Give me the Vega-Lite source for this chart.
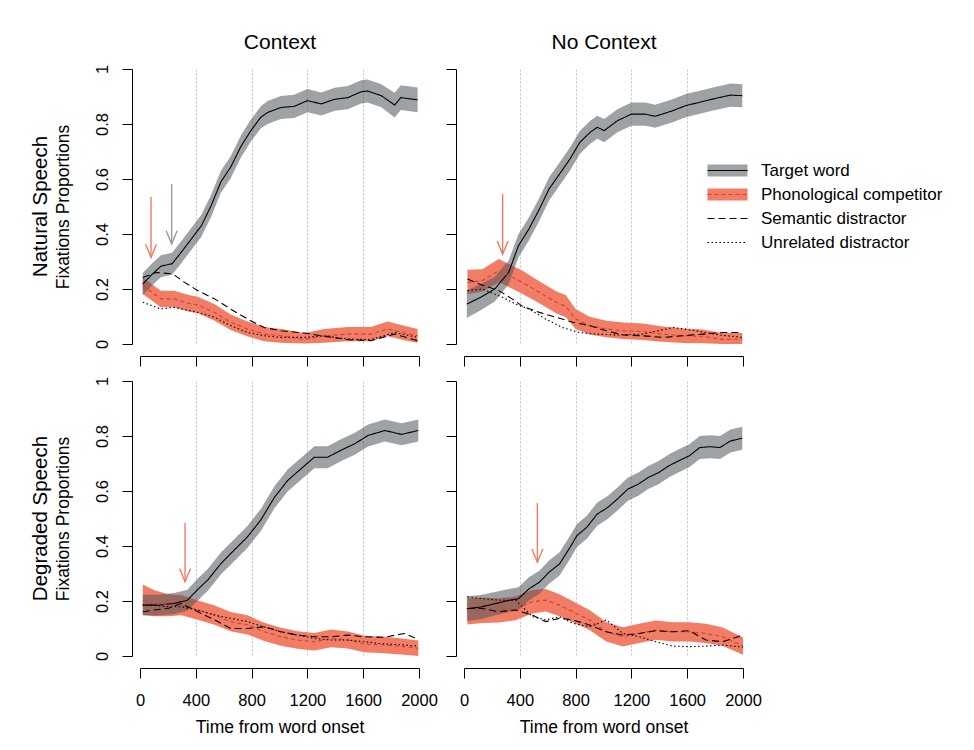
{
"$schema":"https://vega.github.io/schema/vega-lite/v6.json",
"autosize":{"type":"pad"},
"padding":{"left":30,"top":31,"right":10,"bottom":10},
"background":"white",
"datasets":{
"series":[
{"g":"TL","s":"Target word","t":20,"p":0.218,"lo":0.178,"hi":0.258},
{"g":"TL","s":"Target word","t":80,"p":0.25,"lo":0.21,"hi":0.29},
{"g":"TL","s":"Target word","t":150,"p":0.283,"lo":0.243,"hi":0.323},
{"g":"TL","s":"Target word","t":230,"p":0.292,"lo":0.252,"hi":0.332},
{"g":"TL","s":"Target word","t":290,"p":0.33,"lo":0.29,"hi":0.37},
{"g":"TL","s":"Target word","t":365,"p":0.38,"lo":0.34,"hi":0.42},
{"g":"TL","s":"Target word","t":440,"p":0.43,"lo":0.39,"hi":0.47},
{"g":"TL","s":"Target word","t":510,"p":0.503,"lo":0.463,"hi":0.543},
{"g":"TL","s":"Target word","t":580,"p":0.59,"lo":0.55,"hi":0.63},
{"g":"TL","s":"Target word","t":650,"p":0.643,"lo":0.603,"hi":0.683},
{"g":"TL","s":"Target word","t":725,"p":0.72,"lo":0.68,"hi":0.76},
{"g":"TL","s":"Target word","t":795,"p":0.776,"lo":0.736,"hi":0.816},
{"g":"TL","s":"Target word","t":865,"p":0.824,"lo":0.784,"hi":0.864},
{"g":"TL","s":"Target word","t":915,"p":0.842,"lo":0.8,"hi":0.884},
{"g":"TL","s":"Target word","t":1010,"p":0.86,"lo":0.818,"hi":0.902},
{"g":"TL","s":"Target word","t":1105,"p":0.864,"lo":0.822,"hi":0.906},
{"g":"TL","s":"Target word","t":1200,"p":0.885,"lo":0.843,"hi":0.927},
{"g":"TL","s":"Target word","t":1300,"p":0.873,"lo":0.831,"hi":0.915},
{"g":"TL","s":"Target word","t":1395,"p":0.89,"lo":0.848,"hi":0.932},
{"g":"TL","s":"Target word","t":1490,"p":0.896,"lo":0.854,"hi":0.938},
{"g":"TL","s":"Target word","t":1585,"p":0.917,"lo":0.875,"hi":0.959},
{"g":"TL","s":"Target word","t":1630,"p":0.92,"lo":0.878,"hi":0.962},
{"g":"TL","s":"Target word","t":1730,"p":0.903,"lo":0.861,"hi":0.945},
{"g":"TL","s":"Target word","t":1825,"p":0.869,"lo":0.824,"hi":0.914},
{"g":"TL","s":"Target word","t":1870,"p":0.896,"lo":0.851,"hi":0.941},
{"g":"TL","s":"Target word","t":1990,"p":0.888,"lo":0.843,"hi":0.933},
{"g":"TL","s":"Phonological competitor","t":20,"p":0.212,"lo":0.182,"hi":0.242},
{"g":"TL","s":"Phonological competitor","t":150,"p":0.164,"lo":0.134,"hi":0.194},
{"g":"TL","s":"Phonological competitor","t":245,"p":0.164,"lo":0.134,"hi":0.194},
{"g":"TL","s":"Phonological competitor","t":340,"p":0.149,"lo":0.119,"hi":0.179},
{"g":"TL","s":"Phonological competitor","t":415,"p":0.142,"lo":0.112,"hi":0.172},
{"g":"TL","s":"Phonological competitor","t":535,"p":0.115,"lo":0.085,"hi":0.145},
{"g":"TL","s":"Phonological competitor","t":650,"p":0.079,"lo":0.051,"hi":0.107},
{"g":"TL","s":"Phonological competitor","t":770,"p":0.055,"lo":0.028,"hi":0.082},
{"g":"TL","s":"Phonological competitor","t":890,"p":0.036,"lo":0.01,"hi":0.062},
{"g":"TL","s":"Phonological competitor","t":1010,"p":0.03,"lo":0.005,"hi":0.055},
{"g":"TL","s":"Phonological competitor","t":1180,"p":0.016,"lo":0.002,"hi":0.04},
{"g":"TL","s":"Phonological competitor","t":1320,"p":0.03,"lo":0.005,"hi":0.055},
{"g":"TL","s":"Phonological competitor","t":1490,"p":0.036,"lo":0.01,"hi":0.062},
{"g":"TL","s":"Phonological competitor","t":1655,"p":0.036,"lo":0.01,"hi":0.062},
{"g":"TL","s":"Phonological competitor","t":1775,"p":0.055,"lo":0.028,"hi":0.082},
{"g":"TL","s":"Phonological competitor","t":1895,"p":0.04,"lo":0.014,"hi":0.066},
{"g":"TL","s":"Phonological competitor","t":1990,"p":0.03,"lo":0.005,"hi":0.055},
{"g":"TL","s":"Semantic distractor","t":20,"p":0.242},
{"g":"TL","s":"Semantic distractor","t":115,"p":0.26},
{"g":"TL","s":"Semantic distractor","t":235,"p":0.255},
{"g":"TL","s":"Semantic distractor","t":320,"p":0.224},
{"g":"TL","s":"Semantic distractor","t":415,"p":0.194},
{"g":"TL","s":"Semantic distractor","t":535,"p":0.164},
{"g":"TL","s":"Semantic distractor","t":650,"p":0.127},
{"g":"TL","s":"Semantic distractor","t":770,"p":0.091},
{"g":"TL","s":"Semantic distractor","t":890,"p":0.06},
{"g":"TL","s":"Semantic distractor","t":1010,"p":0.048},
{"g":"TL","s":"Semantic distractor","t":1180,"p":0.04},
{"g":"TL","s":"Semantic distractor","t":1320,"p":0.028},
{"g":"TL","s":"Semantic distractor","t":1490,"p":0.016},
{"g":"TL","s":"Semantic distractor","t":1655,"p":0.012},
{"g":"TL","s":"Semantic distractor","t":1825,"p":0.036},
{"g":"TL","s":"Semantic distractor","t":1990,"p":0.012},
{"g":"TL","s":"Unrelated distractor","t":20,"p":0.152},
{"g":"TL","s":"Unrelated distractor","t":150,"p":0.127},
{"g":"TL","s":"Unrelated distractor","t":245,"p":0.133},
{"g":"TL","s":"Unrelated distractor","t":415,"p":0.115},
{"g":"TL","s":"Unrelated distractor","t":535,"p":0.097},
{"g":"TL","s":"Unrelated distractor","t":650,"p":0.067},
{"g":"TL","s":"Unrelated distractor","t":770,"p":0.042},
{"g":"TL","s":"Unrelated distractor","t":890,"p":0.03},
{"g":"TL","s":"Unrelated distractor","t":1010,"p":0.024},
{"g":"TL","s":"Unrelated distractor","t":1180,"p":0.024},
{"g":"TL","s":"Unrelated distractor","t":1320,"p":0.03},
{"g":"TL","s":"Unrelated distractor","t":1490,"p":0.018},
{"g":"TL","s":"Unrelated distractor","t":1655,"p":0.016},
{"g":"TL","s":"Unrelated distractor","t":1825,"p":0.042},
{"g":"TL","s":"Unrelated distractor","t":1990,"p":0.024},
{"g":"TR","s":"Target word","t":20,"p":0.145,"lo":0.095,"hi":0.195},
{"g":"TR","s":"Target word","t":120,"p":0.17,"lo":0.123,"hi":0.217},
{"g":"TR","s":"Target word","t":220,"p":0.2,"lo":0.155,"hi":0.245},
{"g":"TR","s":"Target word","t":320,"p":0.26,"lo":0.217,"hi":0.303},
{"g":"TR","s":"Target word","t":390,"p":0.357,"lo":0.315,"hi":0.399},
{"g":"TR","s":"Target word","t":465,"p":0.418,"lo":0.376,"hi":0.46},
{"g":"TR","s":"Target word","t":540,"p":0.49,"lo":0.448,"hi":0.532},
{"g":"TR","s":"Target word","t":610,"p":0.564,"lo":0.522,"hi":0.606},
{"g":"TR","s":"Target word","t":685,"p":0.618,"lo":0.576,"hi":0.66},
{"g":"TR","s":"Target word","t":760,"p":0.673,"lo":0.631,"hi":0.715},
{"g":"TR","s":"Target word","t":830,"p":0.733,"lo":0.691,"hi":0.775},
{"g":"TR","s":"Target word","t":905,"p":0.77,"lo":0.728,"hi":0.812},
{"g":"TR","s":"Target word","t":955,"p":0.788,"lo":0.746,"hi":0.83},
{"g":"TR","s":"Target word","t":1005,"p":0.776,"lo":0.734,"hi":0.818},
{"g":"TR","s":"Target word","t":1100,"p":0.812,"lo":0.77,"hi":0.854},
{"g":"TR","s":"Target word","t":1200,"p":0.836,"lo":0.794,"hi":0.878},
{"g":"TR","s":"Target word","t":1300,"p":0.836,"lo":0.794,"hi":0.878},
{"g":"TR","s":"Target word","t":1370,"p":0.828,"lo":0.786,"hi":0.87},
{"g":"TR","s":"Target word","t":1495,"p":0.848,"lo":0.806,"hi":0.89},
{"g":"TR","s":"Target word","t":1590,"p":0.867,"lo":0.825,"hi":0.909},
{"g":"TR","s":"Target word","t":1690,"p":0.879,"lo":0.837,"hi":0.921},
{"g":"TR","s":"Target word","t":1785,"p":0.891,"lo":0.849,"hi":0.933},
{"g":"TR","s":"Target word","t":1910,"p":0.905,"lo":0.863,"hi":0.947},
{"g":"TR","s":"Target word","t":1995,"p":0.903,"lo":0.861,"hi":0.945},
{"g":"TR","s":"Phonological competitor","t":25,"p":0.224,"lo":0.182,"hi":0.27},
{"g":"TR","s":"Phonological competitor","t":130,"p":0.23,"lo":0.19,"hi":0.272},
{"g":"TR","s":"Phonological competitor","t":250,"p":0.267,"lo":0.225,"hi":0.309},
{"g":"TR","s":"Phonological competitor","t":325,"p":0.248,"lo":0.206,"hi":0.29},
{"g":"TR","s":"Phonological competitor","t":420,"p":0.224,"lo":0.182,"hi":0.266},
{"g":"TR","s":"Phonological competitor","t":540,"p":0.188,"lo":0.148,"hi":0.228},
{"g":"TR","s":"Phonological competitor","t":660,"p":0.152,"lo":0.112,"hi":0.192},
{"g":"TR","s":"Phonological competitor","t":730,"p":0.137,"lo":0.097,"hi":0.177},
{"g":"TR","s":"Phonological competitor","t":800,"p":0.091,"lo":0.055,"hi":0.127},
{"g":"TR","s":"Phonological competitor","t":900,"p":0.067,"lo":0.035,"hi":0.099},
{"g":"TR","s":"Phonological competitor","t":1020,"p":0.055,"lo":0.025,"hi":0.085},
{"g":"TR","s":"Phonological competitor","t":1140,"p":0.048,"lo":0.018,"hi":0.078},
{"g":"TR","s":"Phonological competitor","t":1280,"p":0.045,"lo":0.015,"hi":0.075},
{"g":"TR","s":"Phonological competitor","t":1425,"p":0.036,"lo":0.008,"hi":0.064},
{"g":"TR","s":"Phonological competitor","t":1570,"p":0.03,"lo":0.004,"hi":0.056},
{"g":"TR","s":"Phonological competitor","t":1710,"p":0.028,"lo":0.003,"hi":0.053},
{"g":"TR","s":"Phonological competitor","t":1855,"p":0.016,"lo":0.0,"hi":0.04},
{"g":"TR","s":"Phonological competitor","t":1995,"p":0.018,"lo":0.0,"hi":0.04},
{"g":"TR","s":"Semantic distractor","t":25,"p":0.236},
{"g":"TR","s":"Semantic distractor","t":110,"p":0.218},
{"g":"TR","s":"Semantic distractor","t":180,"p":0.206},
{"g":"TR","s":"Semantic distractor","t":250,"p":0.194},
{"g":"TR","s":"Semantic distractor","t":345,"p":0.164},
{"g":"TR","s":"Semantic distractor","t":420,"p":0.137},
{"g":"TR","s":"Semantic distractor","t":540,"p":0.115},
{"g":"TR","s":"Semantic distractor","t":660,"p":0.097},
{"g":"TR","s":"Semantic distractor","t":780,"p":0.079},
{"g":"TR","s":"Semantic distractor","t":900,"p":0.067},
{"g":"TR","s":"Semantic distractor","t":1020,"p":0.048},
{"g":"TR","s":"Semantic distractor","t":1140,"p":0.033},
{"g":"TR","s":"Semantic distractor","t":1280,"p":0.03},
{"g":"TR","s":"Semantic distractor","t":1425,"p":0.024},
{"g":"TR","s":"Semantic distractor","t":1570,"p":0.03},
{"g":"TR","s":"Semantic distractor","t":1710,"p":0.036},
{"g":"TR","s":"Semantic distractor","t":1855,"p":0.042},
{"g":"TR","s":"Semantic distractor","t":1995,"p":0.042},
{"g":"TR","s":"Unrelated distractor","t":25,"p":0.194},
{"g":"TR","s":"Unrelated distractor","t":130,"p":0.2},
{"g":"TR","s":"Unrelated distractor","t":275,"p":0.17},
{"g":"TR","s":"Unrelated distractor","t":370,"p":0.145},
{"g":"TR","s":"Unrelated distractor","t":465,"p":0.127},
{"g":"TR","s":"Unrelated distractor","t":585,"p":0.091},
{"g":"TR","s":"Unrelated distractor","t":705,"p":0.06},
{"g":"TR","s":"Unrelated distractor","t":825,"p":0.042},
{"g":"TR","s":"Unrelated distractor","t":945,"p":0.036},
{"g":"TR","s":"Unrelated distractor","t":1090,"p":0.033},
{"g":"TR","s":"Unrelated distractor","t":1280,"p":0.036},
{"g":"TR","s":"Unrelated distractor","t":1500,"p":0.06},
{"g":"TR","s":"Unrelated distractor","t":1665,"p":0.048},
{"g":"TR","s":"Unrelated distractor","t":1830,"p":0.033},
{"g":"TR","s":"Unrelated distractor","t":1995,"p":0.024},
{"g":"BL","s":"Target word","t":20,"p":0.185,"lo":0.147,"hi":0.223},
{"g":"BL","s":"Target word","t":125,"p":0.185,"lo":0.147,"hi":0.223},
{"g":"BL","s":"Target word","t":245,"p":0.191,"lo":0.153,"hi":0.229},
{"g":"BL","s":"Target word","t":340,"p":0.203,"lo":0.165,"hi":0.241},
{"g":"BL","s":"Target word","t":410,"p":0.24,"lo":0.2,"hi":0.28},
{"g":"BL","s":"Target word","t":485,"p":0.276,"lo":0.236,"hi":0.316},
{"g":"BL","s":"Target word","t":580,"p":0.336,"lo":0.296,"hi":0.376},
{"g":"BL","s":"Target word","t":675,"p":0.385,"lo":0.345,"hi":0.425},
{"g":"BL","s":"Target word","t":770,"p":0.433,"lo":0.393,"hi":0.473},
{"g":"BL","s":"Target word","t":865,"p":0.494,"lo":0.454,"hi":0.534},
{"g":"BL","s":"Target word","t":965,"p":0.578,"lo":0.538,"hi":0.618},
{"g":"BL","s":"Target word","t":1060,"p":0.639,"lo":0.599,"hi":0.679},
{"g":"BL","s":"Target word","t":1155,"p":0.681,"lo":0.641,"hi":0.721},
{"g":"BL","s":"Target word","t":1250,"p":0.723,"lo":0.683,"hi":0.763},
{"g":"BL","s":"Target word","t":1345,"p":0.723,"lo":0.683,"hi":0.763},
{"g":"BL","s":"Target word","t":1440,"p":0.748,"lo":0.708,"hi":0.788},
{"g":"BL","s":"Target word","t":1540,"p":0.772,"lo":0.732,"hi":0.812},
{"g":"BL","s":"Target word","t":1635,"p":0.802,"lo":0.762,"hi":0.842},
{"g":"BL","s":"Target word","t":1755,"p":0.82,"lo":0.78,"hi":0.86},
{"g":"BL","s":"Target word","t":1875,"p":0.806,"lo":0.766,"hi":0.846},
{"g":"BL","s":"Target word","t":1995,"p":0.82,"lo":0.78,"hi":0.86},
{"g":"BL","s":"Phonological competitor","t":20,"p":0.203,"lo":0.15,"hi":0.26},
{"g":"BL","s":"Phonological competitor","t":100,"p":0.191,"lo":0.145,"hi":0.24},
{"g":"BL","s":"Phonological competitor","t":200,"p":0.185,"lo":0.145,"hi":0.225},
{"g":"BL","s":"Phonological competitor","t":295,"p":0.185,"lo":0.148,"hi":0.222},
{"g":"BL","s":"Phonological competitor","t":415,"p":0.167,"lo":0.132,"hi":0.202},
{"g":"BL","s":"Phonological competitor","t":535,"p":0.149,"lo":0.114,"hi":0.184},
{"g":"BL","s":"Phonological competitor","t":650,"p":0.125,"lo":0.09,"hi":0.16},
{"g":"BL","s":"Phonological competitor","t":770,"p":0.113,"lo":0.078,"hi":0.148},
{"g":"BL","s":"Phonological competitor","t":890,"p":0.088,"lo":0.055,"hi":0.121},
{"g":"BL","s":"Phonological competitor","t":1010,"p":0.07,"lo":0.037,"hi":0.103},
{"g":"BL","s":"Phonological competitor","t":1130,"p":0.058,"lo":0.026,"hi":0.09},
{"g":"BL","s":"Phonological competitor","t":1250,"p":0.052,"lo":0.02,"hi":0.084},
{"g":"BL","s":"Phonological competitor","t":1370,"p":0.064,"lo":0.032,"hi":0.096},
{"g":"BL","s":"Phonological competitor","t":1490,"p":0.058,"lo":0.027,"hi":0.089},
{"g":"BL","s":"Phonological competitor","t":1610,"p":0.044,"lo":0.014,"hi":0.074},
{"g":"BL","s":"Phonological competitor","t":1750,"p":0.04,"lo":0.01,"hi":0.07},
{"g":"BL","s":"Phonological competitor","t":1895,"p":0.034,"lo":0.005,"hi":0.063},
{"g":"BL","s":"Phonological competitor","t":1995,"p":0.028,"lo":0.0,"hi":0.056},
{"g":"BL","s":"Semantic distractor","t":20,"p":0.161},
{"g":"BL","s":"Semantic distractor","t":100,"p":0.167},
{"g":"BL","s":"Semantic distractor","t":200,"p":0.173},
{"g":"BL","s":"Semantic distractor","t":295,"p":0.191},
{"g":"BL","s":"Semantic distractor","t":415,"p":0.161},
{"g":"BL","s":"Semantic distractor","t":535,"p":0.131},
{"g":"BL","s":"Semantic distractor","t":650,"p":0.1},
{"g":"BL","s":"Semantic distractor","t":770,"p":0.1},
{"g":"BL","s":"Semantic distractor","t":890,"p":0.106},
{"g":"BL","s":"Semantic distractor","t":1010,"p":0.088},
{"g":"BL","s":"Semantic distractor","t":1130,"p":0.076},
{"g":"BL","s":"Semantic distractor","t":1250,"p":0.07},
{"g":"BL","s":"Semantic distractor","t":1370,"p":0.07},
{"g":"BL","s":"Semantic distractor","t":1490,"p":0.076},
{"g":"BL","s":"Semantic distractor","t":1610,"p":0.07},
{"g":"BL","s":"Semantic distractor","t":1750,"p":0.068},
{"g":"BL","s":"Semantic distractor","t":1895,"p":0.082},
{"g":"BL","s":"Semantic distractor","t":1995,"p":0.06},
{"g":"BL","s":"Unrelated distractor","t":20,"p":0.185},
{"g":"BL","s":"Unrelated distractor","t":100,"p":0.185},
{"g":"BL","s":"Unrelated distractor","t":200,"p":0.179},
{"g":"BL","s":"Unrelated distractor","t":295,"p":0.179},
{"g":"BL","s":"Unrelated distractor","t":415,"p":0.167},
{"g":"BL","s":"Unrelated distractor","t":535,"p":0.149},
{"g":"BL","s":"Unrelated distractor","t":650,"p":0.137},
{"g":"BL","s":"Unrelated distractor","t":770,"p":0.125},
{"g":"BL","s":"Unrelated distractor","t":890,"p":0.106},
{"g":"BL","s":"Unrelated distractor","t":1010,"p":0.088},
{"g":"BL","s":"Unrelated distractor","t":1130,"p":0.076},
{"g":"BL","s":"Unrelated distractor","t":1250,"p":0.064},
{"g":"BL","s":"Unrelated distractor","t":1370,"p":0.058},
{"g":"BL","s":"Unrelated distractor","t":1490,"p":0.058},
{"g":"BL","s":"Unrelated distractor","t":1610,"p":0.052},
{"g":"BL","s":"Unrelated distractor","t":1750,"p":0.044},
{"g":"BL","s":"Unrelated distractor","t":1895,"p":0.04},
{"g":"BL","s":"Unrelated distractor","t":1995,"p":0.036},
{"g":"BR","s":"Target word","t":20,"p":0.172,"lo":0.127,"hi":0.217},
{"g":"BR","s":"Target word","t":120,"p":0.178,"lo":0.134,"hi":0.222},
{"g":"BR","s":"Target word","t":220,"p":0.19,"lo":0.147,"hi":0.233},
{"g":"BR","s":"Target word","t":320,"p":0.202,"lo":0.16,"hi":0.244},
{"g":"BR","s":"Target word","t":390,"p":0.208,"lo":0.166,"hi":0.25},
{"g":"BR","s":"Target word","t":465,"p":0.244,"lo":0.202,"hi":0.286},
{"g":"BR","s":"Target word","t":540,"p":0.268,"lo":0.226,"hi":0.31},
{"g":"BR","s":"Target word","t":610,"p":0.305,"lo":0.263,"hi":0.347},
{"g":"BR","s":"Target word","t":685,"p":0.335,"lo":0.293,"hi":0.377},
{"g":"BR","s":"Target word","t":760,"p":0.395,"lo":0.353,"hi":0.437},
{"g":"BR","s":"Target word","t":810,"p":0.438,"lo":0.396,"hi":0.48},
{"g":"BR","s":"Target word","t":880,"p":0.468,"lo":0.426,"hi":0.51},
{"g":"BR","s":"Target word","t":955,"p":0.516,"lo":0.474,"hi":0.558},
{"g":"BR","s":"Target word","t":1030,"p":0.54,"lo":0.498,"hi":0.582},
{"g":"BR","s":"Target word","t":1100,"p":0.571,"lo":0.529,"hi":0.613},
{"g":"BR","s":"Target word","t":1175,"p":0.607,"lo":0.565,"hi":0.649},
{"g":"BR","s":"Target word","t":1250,"p":0.625,"lo":0.583,"hi":0.667},
{"g":"BR","s":"Target word","t":1320,"p":0.649,"lo":0.607,"hi":0.691},
{"g":"BR","s":"Target word","t":1395,"p":0.667,"lo":0.625,"hi":0.709},
{"g":"BR","s":"Target word","t":1470,"p":0.692,"lo":0.65,"hi":0.734},
{"g":"BR","s":"Target word","t":1540,"p":0.71,"lo":0.668,"hi":0.752},
{"g":"BR","s":"Target word","t":1615,"p":0.728,"lo":0.686,"hi":0.77},
{"g":"BR","s":"Target word","t":1690,"p":0.758,"lo":0.716,"hi":0.8},
{"g":"BR","s":"Target word","t":1765,"p":0.761,"lo":0.719,"hi":0.803},
{"g":"BR","s":"Target word","t":1835,"p":0.758,"lo":0.716,"hi":0.8},
{"g":"BR","s":"Target word","t":1910,"p":0.782,"lo":0.74,"hi":0.824},
{"g":"BR","s":"Target word","t":1995,"p":0.792,"lo":0.75,"hi":0.834},
{"g":"BR","s":"Phonological competitor","t":25,"p":0.161,"lo":0.115,"hi":0.21},
{"g":"BR","s":"Phonological competitor","t":130,"p":0.167,"lo":0.12,"hi":0.212},
{"g":"BR","s":"Phonological competitor","t":250,"p":0.167,"lo":0.122,"hi":0.21},
{"g":"BR","s":"Phonological competitor","t":370,"p":0.173,"lo":0.13,"hi":0.216},
{"g":"BR","s":"Phonological competitor","t":490,"p":0.197,"lo":0.155,"hi":0.24},
{"g":"BR","s":"Phonological competitor","t":585,"p":0.203,"lo":0.162,"hi":0.244},
{"g":"BR","s":"Phonological competitor","t":685,"p":0.185,"lo":0.145,"hi":0.225},
{"g":"BR","s":"Phonological competitor","t":780,"p":0.161,"lo":0.123,"hi":0.199},
{"g":"BR","s":"Phonological competitor","t":900,"p":0.131,"lo":0.095,"hi":0.167},
{"g":"BR","s":"Phonological competitor","t":1020,"p":0.088,"lo":0.053,"hi":0.123},
{"g":"BR","s":"Phonological competitor","t":1140,"p":0.07,"lo":0.035,"hi":0.105},
{"g":"BR","s":"Phonological competitor","t":1255,"p":0.082,"lo":0.047,"hi":0.117},
{"g":"BR","s":"Phonological competitor","t":1375,"p":0.094,"lo":0.059,"hi":0.129},
{"g":"BR","s":"Phonological competitor","t":1495,"p":0.088,"lo":0.053,"hi":0.123},
{"g":"BR","s":"Phonological competitor","t":1615,"p":0.088,"lo":0.053,"hi":0.123},
{"g":"BR","s":"Phonological competitor","t":1735,"p":0.082,"lo":0.047,"hi":0.117},
{"g":"BR","s":"Phonological competitor","t":1855,"p":0.07,"lo":0.036,"hi":0.104},
{"g":"BR","s":"Phonological competitor","t":2000,"p":0.036,"lo":0.005,"hi":0.067},
{"g":"BR","s":"Semantic distractor","t":25,"p":0.173},
{"g":"BR","s":"Semantic distractor","t":130,"p":0.173},
{"g":"BR","s":"Semantic distractor","t":250,"p":0.161},
{"g":"BR","s":"Semantic distractor","t":370,"p":0.167},
{"g":"BR","s":"Semantic distractor","t":490,"p":0.149},
{"g":"BR","s":"Semantic distractor","t":585,"p":0.125},
{"g":"BR","s":"Semantic distractor","t":685,"p":0.137},
{"g":"BR","s":"Semantic distractor","t":780,"p":0.131},
{"g":"BR","s":"Semantic distractor","t":900,"p":0.113},
{"g":"BR","s":"Semantic distractor","t":1020,"p":0.088},
{"g":"BR","s":"Semantic distractor","t":1140,"p":0.076},
{"g":"BR","s":"Semantic distractor","t":1255,"p":0.082},
{"g":"BR","s":"Semantic distractor","t":1375,"p":0.092},
{"g":"BR","s":"Semantic distractor","t":1495,"p":0.088},
{"g":"BR","s":"Semantic distractor","t":1615,"p":0.092},
{"g":"BR","s":"Semantic distractor","t":1735,"p":0.058},
{"g":"BR","s":"Semantic distractor","t":1855,"p":0.052},
{"g":"BR","s":"Semantic distractor","t":2000,"p":0.076},
{"g":"BR","s":"Unrelated distractor","t":25,"p":0.215},
{"g":"BR","s":"Unrelated distractor","t":130,"p":0.209},
{"g":"BR","s":"Unrelated distractor","t":250,"p":0.203},
{"g":"BR","s":"Unrelated distractor","t":370,"p":0.203},
{"g":"BR","s":"Unrelated distractor","t":490,"p":0.143},
{"g":"BR","s":"Unrelated distractor","t":585,"p":0.131},
{"g":"BR","s":"Unrelated distractor","t":685,"p":0.143},
{"g":"BR","s":"Unrelated distractor","t":780,"p":0.119},
{"g":"BR","s":"Unrelated distractor","t":900,"p":0.106},
{"g":"BR","s":"Unrelated distractor","t":1020,"p":0.131},
{"g":"BR","s":"Unrelated distractor","t":1140,"p":0.082},
{"g":"BR","s":"Unrelated distractor","t":1255,"p":0.07},
{"g":"BR","s":"Unrelated distractor","t":1375,"p":0.052},
{"g":"BR","s":"Unrelated distractor","t":1495,"p":0.036},
{"g":"BR","s":"Unrelated distractor","t":1615,"p":0.034},
{"g":"BR","s":"Unrelated distractor","t":1735,"p":0.036},
{"g":"BR","s":"Unrelated distractor","t":1855,"p":0.04},
{"g":"BR","s":"Unrelated distractor","t":2000,"p":0.032}
],
"arrows":[
{"g":"TL","k":"phon","t":79,"top":0.535,"tip":0.315},
{"g":"TL","k":"target","t":227,"top":0.582,"tip":0.364},
{"g":"TR","k":"phon","t":277,"top":0.545,"tip":0.327},
{"g":"BL","k":"phon","t":323,"top":0.484,"tip":0.27},
{"g":"BR","k":"phon","t":526,"top":0.556,"tip":0.341}
]
},
"spacing":9,
"vconcat":[
{"hconcat":[
 {"width":279,"height":275,
  "title":{"text":"Natural Speech","orient":"left","anchor":"middle","frame":"group","fontSize":20.5,"offset":3},
  "resolve":{"axis":{"x":"independent"}},
  "layer":[
   {"data":{"name":"series"},"transform":[{"filter":"datum.g==='TL' && datum.s==='Phonological competitor'"}],
    "mark":{"type":"area"},
    "encoding":{
     "x":{"field":"t","type":"quantitative","scale":{"domain":[0,2000],"nice":false,"zero":false},
      "axis":{"values":[0,400,800,1200,1600,2000],"offset":12,"labels":false,"title":null,"grid":true,"gridDash":[2,2],"gridColor":"#b4b4b4","gridWidth":0.8,"gridOpacity":{"condition":{"test":"datum.value===0 || datum.value===2000","value":0},"value":1}}},
     "y":{"field":"lo","type":"quantitative","scale":{"domain":[0,1],"nice":false,"zero":false},
      "axis":{"values":[0,0.2,0.4,0.6,0.8,1],"offset":8,"format":"~g","labelAngle":-90,"labelAlign":"center","labelBaseline":"bottom","labelPadding":12,"title":"Fixations Proportions","titlePadding":22}},
     "y2":{"field":"hi"},
     "fill":{"field":"s","type":"nominal","scale":{"domain":["Target word","Phonological competitor"],"range":["rgba(80,85,90,0.55)","#f27c64"]},
      "legend":{"title":null,"orient":"none","legendX":579,"legendY":93,"symbolType":"M-4,-1.2H4V1.2H-4Z","symbolSize":100,"symbolStrokeWidth":0,"labelOffset":25,"rowPadding":6,"labelOpacity":0,"labelFontSize":17,"labelLimit":300,"zindex":0}}}},
   {"data":{"name":"series"},"transform":[{"filter":"datum.g==='TL' && datum.s==='Target word'"}],
    "mark":{"type":"area"},
    "encoding":{
     "x":{"field":"t","type":"quantitative","scale":{"domain":[0,2000],"nice":false,"zero":false},"axis":null},
     "y":{"field":"lo","type":"quantitative","scale":{"domain":[0,1],"nice":false,"zero":false},
      "axis":{"values":[0,0.2,0.4,0.6,0.8,1],"offset":8,"format":"~g","labelAngle":-90,"labelAlign":"center","labelBaseline":"bottom","labelPadding":12,"title":"Fixations Proportions","titlePadding":22}},
     "y2":{"field":"hi"},
     "fill":{"field":"s","type":"nominal","scale":{"domain":["Target word","Phonological competitor"],"range":["rgba(80,85,90,0.55)","#f27c64"]},"legend":{"title":null,"orient":"none","legendX":579,"legendY":93,"symbolType":"M-4,-1.2H4V1.2H-4Z","symbolSize":100,"symbolStrokeWidth":0,"labelOffset":25,"rowPadding":6,"labelOpacity":0,"labelFontSize":17,"labelLimit":300,"zindex":0}}}},
   {"data":{"name":"series"},"transform":[{"filter":"datum.g==='TL'"}],
    "mark":{"type":"line","strokeWidth":1.1},
    "encoding":{
     "x":{"field":"t","type":"quantitative","scale":{"domain":[0,2000],"nice":false,"zero":false},
      "axis":{"orient":"top","title":"Context","domain":false,"ticks":false,"labels":false,"grid":false,"titleFontSize":21,"titlePadding":17}},
     "y":{"field":"p","type":"quantitative","scale":{"domain":[0,1],"nice":false,"zero":false},
      "axis":{"values":[0,0.2,0.4,0.6,0.8,1],"offset":8,"format":"~g","labelAngle":-90,"labelAlign":"center","labelBaseline":"bottom","labelPadding":12,"title":"Fixations Proportions","titlePadding":22}},
     "stroke":{"field":"s","type":"nominal","scale":{"domain":["Target word","Phonological competitor","Semantic distractor","Unrelated distractor"],"range":["#000000","#c8463c","#000000","#000000"]},
      "legend":{"title":null,"orient":"none","legendX":579,"legendY":93,"symbolType":"M-4,0H4","symbolSize":100,"symbolStrokeWidth":1.2,"labelOffset":25,"rowPadding":6,"labelFontSize":17,"labelLimit":300,"zindex":1}},
     "strokeDash":{"field":"s","type":"nominal","scale":{"domain":["Target word","Phonological competitor","Semantic distractor","Unrelated distractor"],"range":[[1,0],[4,3],[7,4],[1.5,2.5]]},
      "legend":{"title":null,"orient":"none","legendX":579,"legendY":93,"symbolType":"M-4,0H4","symbolSize":100,"symbolStrokeWidth":1.2,"labelOffset":25,"rowPadding":6,"labelFontSize":17,"labelLimit":300,"zindex":1}}}},
   {"data":{"name":"arrows"},"transform":[{"filter":"datum.g==='TL'"}],
    "mark":{"type":"rule","strokeWidth":1.4},
    "encoding":{
     "x":{"field":"t","type":"quantitative","scale":{"domain":[0,2000],"nice":false,"zero":false},"axis":null},
     "y":{"field":"top","type":"quantitative","scale":{"domain":[0,1],"nice":false,"zero":false},
      "axis":{"values":[0,0.2,0.4,0.6,0.8,1],"offset":8,"format":"~g","labelAngle":-90,"labelAlign":"center","labelBaseline":"bottom","labelPadding":12,"title":"Fixations Proportions","titlePadding":22}},
     "y2":{"field":"tip"},
     "color":{"field":"k","type":"nominal","scale":{"domain":["phon","target"],"range":["#f07c64","#9a9a9a"]},"legend":null}}},
   {"data":{"name":"arrows"},"transform":[{"filter":"datum.g==='TL'"}],
    "mark":{"type":"point","shape":"M-1,-2.4L0,0L1,-2.4","filled":false,"strokeWidth":1.4,"size":120,"opacity":1},
    "encoding":{
     "x":{"field":"t","type":"quantitative","scale":{"domain":[0,2000],"nice":false,"zero":false},"axis":null},
     "y":{"field":"tip","type":"quantitative","scale":{"domain":[0,1],"nice":false,"zero":false},
      "axis":{"values":[0,0.2,0.4,0.6,0.8,1],"offset":8,"format":"~g","labelAngle":-90,"labelAlign":"center","labelBaseline":"bottom","labelPadding":12,"title":"Fixations Proportions","titlePadding":22}},
     "color":{"field":"k","type":"nominal","scale":{"domain":["phon","target"],"range":["#f07c64","#9a9a9a"]},"legend":null}}}
  ]},
 {"width":279,"height":275,
  "resolve":{"axis":{"x":"independent"}},
  "layer":[
   {"data":{"name":"series"},"transform":[{"filter":"datum.g==='TR' && datum.s==='Phonological competitor'"}],
    "mark":{"type":"area"},
    "encoding":{
     "x":{"field":"t","type":"quantitative","scale":{"domain":[0,2000],"nice":false,"zero":false},
      "axis":{"values":[0,400,800,1200,1600,2000],"offset":12,"labels":false,"title":null,"grid":true,"gridDash":[2,2],"gridColor":"#b4b4b4","gridWidth":0.8,"gridOpacity":{"condition":{"test":"datum.value===0 || datum.value===2000","value":0},"value":1}}},
     "y":{"field":"lo","type":"quantitative","scale":{"domain":[0,1],"nice":false,"zero":false},"axis":{"values":[0,0.2,0.4,0.6,0.8,1],"offset":8,"labels":false,"title":null}},
     "y2":{"field":"hi"},
     "fill":{"field":"s","type":"nominal","legend":null}}},
   {"data":{"name":"series"},"transform":[{"filter":"datum.g==='TR' && datum.s==='Target word'"}],
    "mark":{"type":"area"},
    "encoding":{
     "x":{"field":"t","type":"quantitative","scale":{"domain":[0,2000],"nice":false,"zero":false},"axis":null},
     "y":{"field":"lo","type":"quantitative","scale":{"domain":[0,1],"nice":false,"zero":false},"axis":{"values":[0,0.2,0.4,0.6,0.8,1],"offset":8,"labels":false,"title":null}},
     "y2":{"field":"hi"},
     "fill":{"field":"s","type":"nominal","legend":null}}},
   {"data":{"name":"series"},"transform":[{"filter":"datum.g==='TR'"}],
    "mark":{"type":"line","strokeWidth":1.1},
    "encoding":{
     "x":{"field":"t","type":"quantitative","scale":{"domain":[0,2000],"nice":false,"zero":false},
      "axis":{"orient":"top","title":"No Context","domain":false,"ticks":false,"labels":false,"grid":false,"titleFontSize":21,"titlePadding":17}},
     "y":{"field":"p","type":"quantitative","scale":{"domain":[0,1],"nice":false,"zero":false},"axis":{"values":[0,0.2,0.4,0.6,0.8,1],"offset":8,"labels":false,"title":null}},
     "stroke":{"field":"s","type":"nominal","legend":null},
     "strokeDash":{"field":"s","type":"nominal","legend":null}}},
   {"data":{"name":"arrows"},"transform":[{"filter":"datum.g==='TR'"}],
    "mark":{"type":"rule","strokeWidth":1.4},
    "encoding":{
     "x":{"field":"t","type":"quantitative","scale":{"domain":[0,2000],"nice":false,"zero":false},"axis":null},
     "y":{"field":"top","type":"quantitative","scale":{"domain":[0,1],"nice":false,"zero":false},"axis":{"values":[0,0.2,0.4,0.6,0.8,1],"offset":8,"labels":false,"title":null}},
     "y2":{"field":"tip"},
     "color":{"field":"k","type":"nominal","legend":null}}},
   {"data":{"name":"arrows"},"transform":[{"filter":"datum.g==='TR'"}],
    "mark":{"type":"point","shape":"M-1,-2.4L0,0L1,-2.4","filled":false,"strokeWidth":1.4,"size":120,"opacity":1},
    "encoding":{
     "x":{"field":"t","type":"quantitative","scale":{"domain":[0,2000],"nice":false,"zero":false},"axis":null},
     "y":{"field":"tip","type":"quantitative","scale":{"domain":[0,1],"nice":false,"zero":false},"axis":{"values":[0,0.2,0.4,0.6,0.8,1],"offset":8,"labels":false,"title":null}},
     "color":{"field":"k","type":"nominal","legend":null}}}
  ]}
],"spacing":45,"bounds":"flush"},
{"hconcat":[
 {"width":279,"height":275,
  "title":{"text":"Degraded Speech","orient":"left","anchor":"middle","frame":"group","fontSize":20.5,"offset":3},
  "layer":[
   {"data":{"name":"series"},"transform":[{"filter":"datum.g==='BL' && datum.s==='Phonological competitor'"}],
    "mark":{"type":"area"},
    "encoding":{
     "x":{"field":"t","type":"quantitative","scale":{"domain":[0,2000],"nice":false,"zero":false},
      "axis":{"values":[0,400,800,1200,1600,2000],"format":"d","offset":12,"labelPadding":14,"title":"Time from word onset","titlePadding":10,"grid":true,"gridDash":[2,2],"gridColor":"#b4b4b4","gridWidth":0.8,"gridOpacity":{"condition":{"test":"datum.value===0 || datum.value===2000","value":0},"value":1}}},
     "y":{"field":"lo","type":"quantitative","scale":{"domain":[0,1],"nice":false,"zero":false},
      "axis":{"values":[0,0.2,0.4,0.6,0.8,1],"offset":8,"format":"~g","labelAngle":-90,"labelAlign":"center","labelBaseline":"bottom","labelPadding":12,"title":"Fixations Proportions","titlePadding":22}},
     "y2":{"field":"hi"},
     "fill":{"field":"s","type":"nominal","legend":null}}},
   {"data":{"name":"series"},"transform":[{"filter":"datum.g==='BL' && datum.s==='Target word'"}],
    "mark":{"type":"area"},
    "encoding":{
     "x":{"field":"t","type":"quantitative","scale":{"domain":[0,2000],"nice":false,"zero":false},
      "axis":{"values":[0,400,800,1200,1600,2000],"format":"d","offset":12,"labelPadding":14,"title":"Time from word onset","titlePadding":10,"grid":true,"gridDash":[2,2],"gridColor":"#b4b4b4","gridWidth":0.8,"gridOpacity":{"condition":{"test":"datum.value===0 || datum.value===2000","value":0},"value":1}}},
     "y":{"field":"lo","type":"quantitative","scale":{"domain":[0,1],"nice":false,"zero":false},
      "axis":{"values":[0,0.2,0.4,0.6,0.8,1],"offset":8,"format":"~g","labelAngle":-90,"labelAlign":"center","labelBaseline":"bottom","labelPadding":12,"title":"Fixations Proportions","titlePadding":22}},
     "y2":{"field":"hi"},
     "fill":{"field":"s","type":"nominal","legend":null}}},
   {"data":{"name":"series"},"transform":[{"filter":"datum.g==='BL'"}],
    "mark":{"type":"line","strokeWidth":1.1},
    "encoding":{
     "x":{"field":"t","type":"quantitative","scale":{"domain":[0,2000],"nice":false,"zero":false},
      "axis":{"values":[0,400,800,1200,1600,2000],"format":"d","offset":12,"labelPadding":14,"title":"Time from word onset","titlePadding":10,"grid":true,"gridDash":[2,2],"gridColor":"#b4b4b4","gridWidth":0.8,"gridOpacity":{"condition":{"test":"datum.value===0 || datum.value===2000","value":0},"value":1}}},
     "y":{"field":"p","type":"quantitative","scale":{"domain":[0,1],"nice":false,"zero":false},
      "axis":{"values":[0,0.2,0.4,0.6,0.8,1],"offset":8,"format":"~g","labelAngle":-90,"labelAlign":"center","labelBaseline":"bottom","labelPadding":12,"title":"Fixations Proportions","titlePadding":22}},
     "stroke":{"field":"s","type":"nominal","legend":null},
     "strokeDash":{"field":"s","type":"nominal","legend":null}}},
   {"data":{"name":"arrows"},"transform":[{"filter":"datum.g==='BL'"}],
    "mark":{"type":"rule","strokeWidth":1.4},
    "encoding":{
     "x":{"field":"t","type":"quantitative","scale":{"domain":[0,2000],"nice":false,"zero":false},
      "axis":{"values":[0,400,800,1200,1600,2000],"format":"d","offset":12,"labelPadding":14,"title":"Time from word onset","titlePadding":10,"grid":true,"gridDash":[2,2],"gridColor":"#b4b4b4","gridWidth":0.8,"gridOpacity":{"condition":{"test":"datum.value===0 || datum.value===2000","value":0},"value":1}}},
     "y":{"field":"top","type":"quantitative","scale":{"domain":[0,1],"nice":false,"zero":false},
      "axis":{"values":[0,0.2,0.4,0.6,0.8,1],"offset":8,"format":"~g","labelAngle":-90,"labelAlign":"center","labelBaseline":"bottom","labelPadding":12,"title":"Fixations Proportions","titlePadding":22}},
     "y2":{"field":"tip"},
     "color":{"field":"k","type":"nominal","legend":null}}},
   {"data":{"name":"arrows"},"transform":[{"filter":"datum.g==='BL'"}],
    "mark":{"type":"point","shape":"M-1,-2.4L0,0L1,-2.4","filled":false,"strokeWidth":1.4,"size":120,"opacity":1},
    "encoding":{
     "x":{"field":"t","type":"quantitative","scale":{"domain":[0,2000],"nice":false,"zero":false},
      "axis":{"values":[0,400,800,1200,1600,2000],"format":"d","offset":12,"labelPadding":14,"title":"Time from word onset","titlePadding":10,"grid":true,"gridDash":[2,2],"gridColor":"#b4b4b4","gridWidth":0.8,"gridOpacity":{"condition":{"test":"datum.value===0 || datum.value===2000","value":0},"value":1}}},
     "y":{"field":"tip","type":"quantitative","scale":{"domain":[0,1],"nice":false,"zero":false},
      "axis":{"values":[0,0.2,0.4,0.6,0.8,1],"offset":8,"format":"~g","labelAngle":-90,"labelAlign":"center","labelBaseline":"bottom","labelPadding":12,"title":"Fixations Proportions","titlePadding":22}},
     "color":{"field":"k","type":"nominal","legend":null}}}
  ]},
 {"width":279,"height":275,
  "layer":[
   {"data":{"name":"series"},"transform":[{"filter":"datum.g==='BR' && datum.s==='Phonological competitor'"}],
    "mark":{"type":"area"},
    "encoding":{
     "x":{"field":"t","type":"quantitative","scale":{"domain":[0,2000],"nice":false,"zero":false},
      "axis":{"values":[0,400,800,1200,1600,2000],"format":"d","offset":12,"labelPadding":14,"title":"Time from word onset","titlePadding":10,"grid":true,"gridDash":[2,2],"gridColor":"#b4b4b4","gridWidth":0.8,"gridOpacity":{"condition":{"test":"datum.value===0 || datum.value===2000","value":0},"value":1}}},
     "y":{"field":"lo","type":"quantitative","scale":{"domain":[0,1],"nice":false,"zero":false},"axis":{"values":[0,0.2,0.4,0.6,0.8,1],"offset":8,"labels":false,"title":null}},
     "y2":{"field":"hi"},
     "fill":{"field":"s","type":"nominal","legend":null}}},
   {"data":{"name":"series"},"transform":[{"filter":"datum.g==='BR' && datum.s==='Target word'"}],
    "mark":{"type":"area"},
    "encoding":{
     "x":{"field":"t","type":"quantitative","scale":{"domain":[0,2000],"nice":false,"zero":false},
      "axis":{"values":[0,400,800,1200,1600,2000],"format":"d","offset":12,"labelPadding":14,"title":"Time from word onset","titlePadding":10,"grid":true,"gridDash":[2,2],"gridColor":"#b4b4b4","gridWidth":0.8,"gridOpacity":{"condition":{"test":"datum.value===0 || datum.value===2000","value":0},"value":1}}},
     "y":{"field":"lo","type":"quantitative","scale":{"domain":[0,1],"nice":false,"zero":false},"axis":{"values":[0,0.2,0.4,0.6,0.8,1],"offset":8,"labels":false,"title":null}},
     "y2":{"field":"hi"},
     "fill":{"field":"s","type":"nominal","legend":null}}},
   {"data":{"name":"series"},"transform":[{"filter":"datum.g==='BR'"}],
    "mark":{"type":"line","strokeWidth":1.1},
    "encoding":{
     "x":{"field":"t","type":"quantitative","scale":{"domain":[0,2000],"nice":false,"zero":false},
      "axis":{"values":[0,400,800,1200,1600,2000],"format":"d","offset":12,"labelPadding":14,"title":"Time from word onset","titlePadding":10,"grid":true,"gridDash":[2,2],"gridColor":"#b4b4b4","gridWidth":0.8,"gridOpacity":{"condition":{"test":"datum.value===0 || datum.value===2000","value":0},"value":1}}},
     "y":{"field":"p","type":"quantitative","scale":{"domain":[0,1],"nice":false,"zero":false},"axis":{"values":[0,0.2,0.4,0.6,0.8,1],"offset":8,"labels":false,"title":null}},
     "stroke":{"field":"s","type":"nominal","legend":null},
     "strokeDash":{"field":"s","type":"nominal","legend":null}}},
   {"data":{"name":"arrows"},"transform":[{"filter":"datum.g==='BR'"}],
    "mark":{"type":"rule","strokeWidth":1.4},
    "encoding":{
     "x":{"field":"t","type":"quantitative","scale":{"domain":[0,2000],"nice":false,"zero":false},
      "axis":{"values":[0,400,800,1200,1600,2000],"format":"d","offset":12,"labelPadding":14,"title":"Time from word onset","titlePadding":10,"grid":true,"gridDash":[2,2],"gridColor":"#b4b4b4","gridWidth":0.8,"gridOpacity":{"condition":{"test":"datum.value===0 || datum.value===2000","value":0},"value":1}}},
     "y":{"field":"top","type":"quantitative","scale":{"domain":[0,1],"nice":false,"zero":false},"axis":{"values":[0,0.2,0.4,0.6,0.8,1],"offset":8,"labels":false,"title":null}},
     "y2":{"field":"tip"},
     "color":{"field":"k","type":"nominal","legend":null}}},
   {"data":{"name":"arrows"},"transform":[{"filter":"datum.g==='BR'"}],
    "mark":{"type":"point","shape":"M-1,-2.4L0,0L1,-2.4","filled":false,"strokeWidth":1.4,"size":120,"opacity":1},
    "encoding":{
     "x":{"field":"t","type":"quantitative","scale":{"domain":[0,2000],"nice":false,"zero":false},
      "axis":{"values":[0,400,800,1200,1600,2000],"format":"d","offset":12,"labelPadding":14,"title":"Time from word onset","titlePadding":10,"grid":true,"gridDash":[2,2],"gridColor":"#b4b4b4","gridWidth":0.8,"gridOpacity":{"condition":{"test":"datum.value===0 || datum.value===2000","value":0},"value":1}}},
     "y":{"field":"tip","type":"quantitative","scale":{"domain":[0,1],"nice":false,"zero":false},"axis":{"values":[0,0.2,0.4,0.6,0.8,1],"offset":8,"labels":false,"title":null}},
     "color":{"field":"k","type":"nominal","legend":null}}}
  ]}
],"spacing":45,"bounds":"flush"}
],
"config":{
 "font":"Liberation Sans",
 "view":{"stroke":null},
 "axis":{"domainColor":"#000000","tickColor":"#000000","labelColor":"#000000","titleColor":"#000000","labelFont":"Liberation Sans","titleFont":"Liberation Sans","labelFontSize":16.5,"titleFontSize":17.5,"titleFontWeight":"normal","tickSize":10,"domainWidth":1,"tickWidth":1,"grid":false,"labelFlush":false,"labelOverlap":false},
 "legend":{"labelFont":"Liberation Sans","labelFontSize":17,"labelColor":"#000000"},
 "title":{"font":"Liberation Sans","fontWeight":"normal","color":"#000000"}
}
}
